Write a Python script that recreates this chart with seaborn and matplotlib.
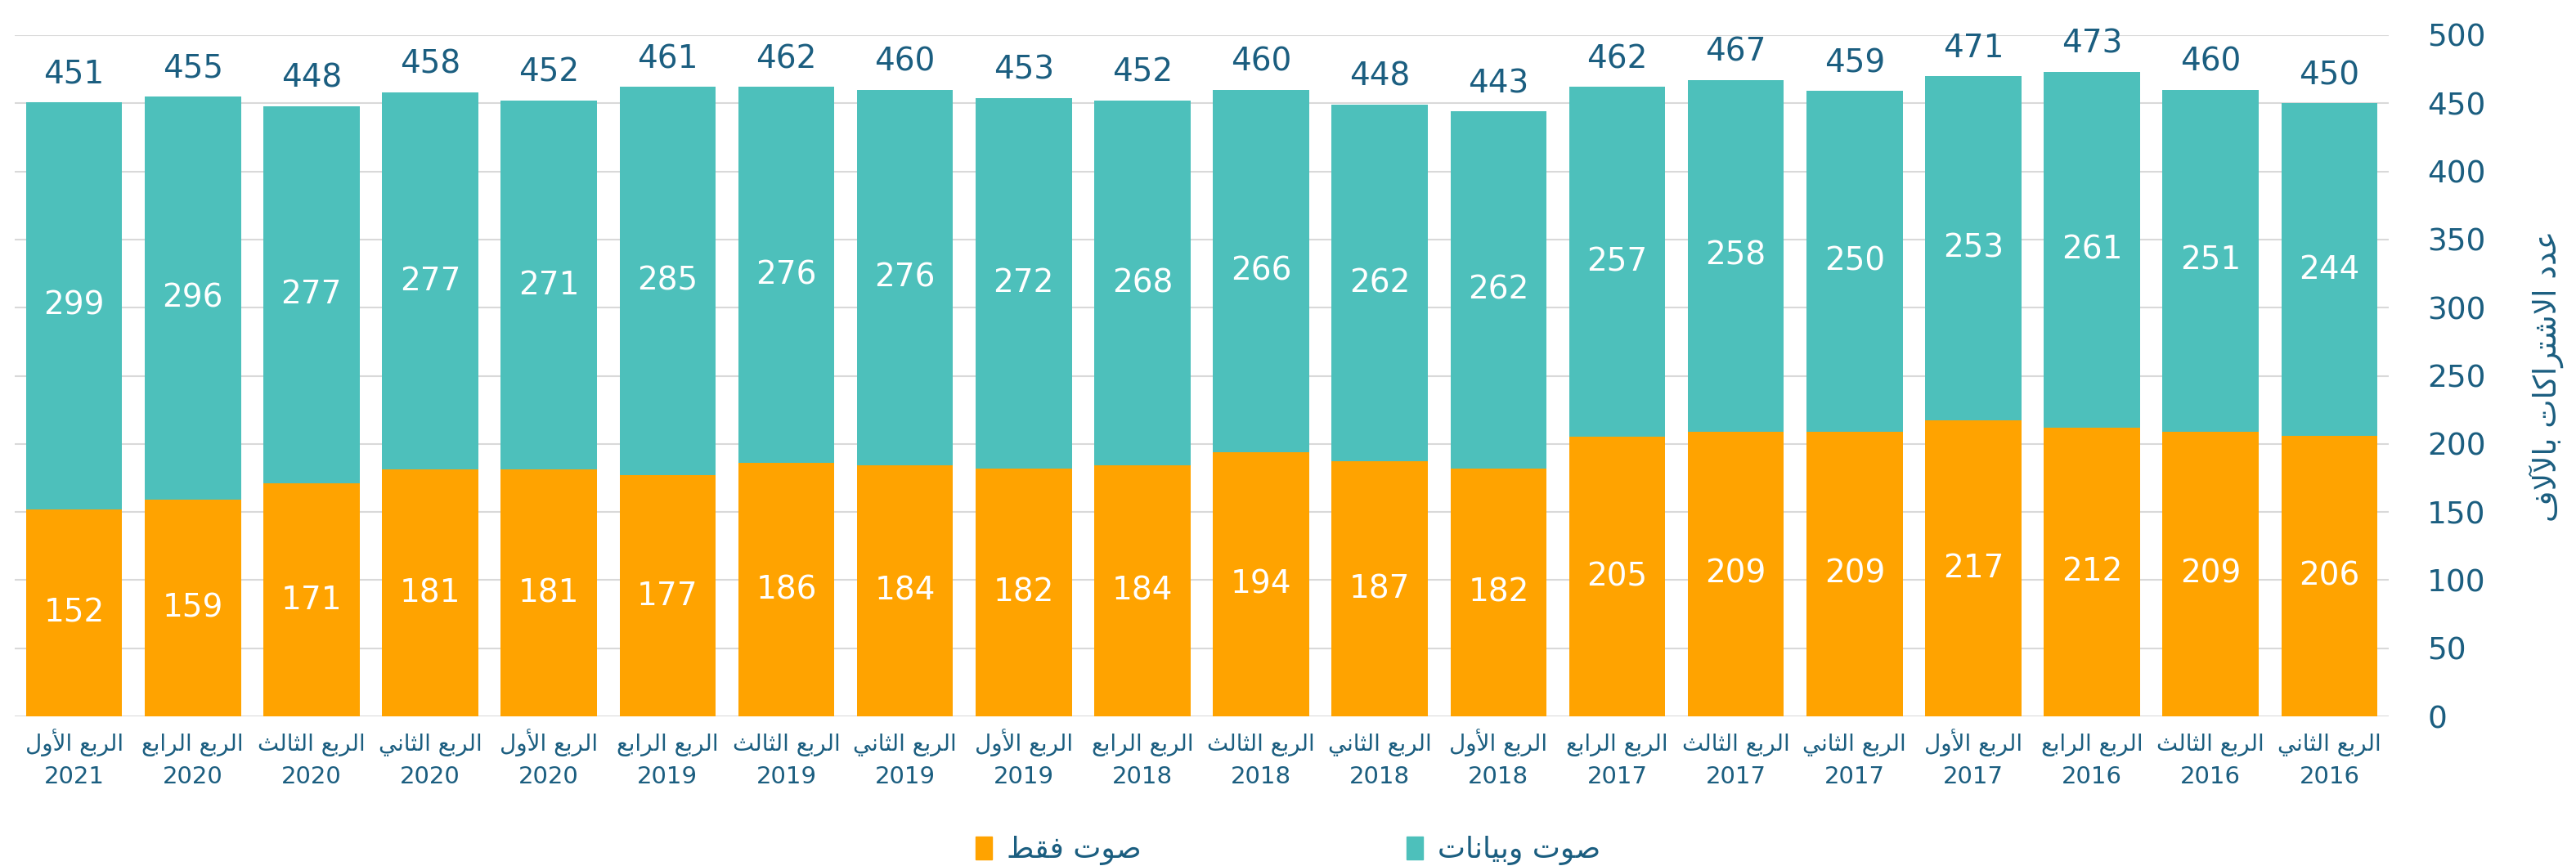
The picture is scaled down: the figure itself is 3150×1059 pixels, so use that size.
import matplotlib
matplotlib.use("Agg")
import matplotlib.pyplot as plt
import matplotlib.transforms as mtransforms
import seaborn as sns
import pandas as pd
from matplotlib.patches import Patch

# --- data (newest quarter on the left, like the source) ---
quarters = ["الربع الأول", "الربع الرابع", "الربع الثالث", "الربع الثاني", "الربع الأول",
            "الربع الرابع", "الربع الثالث", "الربع الثاني", "الربع الأول",
            "الربع الرابع", "الربع الثالث", "الربع الثاني", "الربع الأول",
            "الربع الرابع", "الربع الثالث", "الربع الثاني", "الربع الأول",
            "الربع الرابع", "الربع الثالث", "الربع الثاني"]
years = ["2021", "2020", "2020", "2020", "2020",
         "2019", "2019", "2019", "2019",
         "2018", "2018", "2018", "2018",
         "2017", "2017", "2017", "2017",
         "2016", "2016", "2016"]
voice_only = [152, 159, 171, 181, 181, 177, 186, 184, 182, 184,
              194, 187, 182, 205, 209, 209, 217, 212, 209, 206]
voice_data = [299, 296, 277, 277, 271, 285, 276, 276, 272, 268,
              266, 262, 262, 257, 258, 250, 253, 261, 251, 244]
totals = [451, 455, 448, 458, 452, 461, 462, 460, 453, 452,
          460, 448, 443, 462, 467, 459, 471, 473, 460, 450]

label_voice = "صوت فقط"
label_data = "صوت وبيانات"
y_title = "عدد الاشتراكات بالآلاف"

# --- minimal arabic shaping (matplotlib has no bidi / joining) ---
FORMS = {
    "ا": ("\uFE8D", "\uFE8E"), "أ": ("\uFE83", "\uFE84"), "آ": ("\uFE81", "\uFE82"),
    "د": ("\uFEA9", "\uFEAA"), "ر": ("\uFEAD", "\uFEAE"), "و": ("\uFEED", "\uFEEE"),
    "ب": ("\uFE8F", "\uFE90", "\uFE91", "\uFE92"), "ت": ("\uFE95", "\uFE96", "\uFE97", "\uFE98"),
    "ث": ("\uFE99", "\uFE9A", "\uFE9B", "\uFE9C"), "ش": ("\uFEB5", "\uFEB6", "\uFEB7", "\uFEB8"),
    "ص": ("\uFEB9", "\uFEBA", "\uFEBB", "\uFEBC"), "ط": ("\uFEC1", "\uFEC2", "\uFEC3", "\uFEC4"),
    "ع": ("\uFEC9", "\uFECA", "\uFECB", "\uFECC"), "ف": ("\uFED1", "\uFED2", "\uFED3", "\uFED4"),
    "ق": ("\uFED5", "\uFED6", "\uFED7", "\uFED8"), "ك": ("\uFED9", "\uFEDA", "\uFEDB", "\uFEDC"),
    "ل": ("\uFEDD", "\uFEDE", "\uFEDF", "\uFEE0"), "ن": ("\uFEE5", "\uFEE6", "\uFEE7", "\uFEE8"),
    "ي": ("\uFEF1", "\uFEF2", "\uFEF3", "\uFEF4"),
    "لآ": ("\uFEF5", "\uFEF6"), "لأ": ("\uFEF7", "\uFEF8"), "لا": ("\uFEFB", "\uFEFC"),
}


def ar(text):
    chars = []
    i = 0
    while i < len(text):
        if text[i] == "ل" and i + 1 < len(text) and text[i + 1] in "اأآ":
            chars.append(text[i:i + 2])
            i += 2
        else:
            chars.append(text[i])
            i += 1
    out = []
    for i, c in enumerate(chars):
        f = FORMS.get(c)
        if f is None:
            out.append(c)
            continue
        prev = chars[i - 1] if i > 0 else None
        nxt = chars[i + 1] if i + 1 < len(chars) else None
        jp = prev in FORMS and len(FORMS[prev]) == 4
        jn = nxt in FORMS and len(f) == 4
        if jp and jn:
            out.append(f[3])
        elif jp:
            out.append(f[1])
        elif jn:
            out.append(f[2])
        else:
            out.append(f[0])
    return "".join(reversed(out))


teal = "#4dc0bb"
orange = "#ffa300"
navy = "#1b5e80"

sns.set_style("white")
plt.rcParams["font.family"] = ["DejaVu Sans"]

df = pd.DataFrame({
    "label": [q + " " + y for q, y in zip(quarters, years)],
    "voice": voice_only,
    "stack": [v + d for v, d in zip(voice_only, voice_data)],
})

fig, ax = plt.subplots(figsize=(31.5, 10.59), dpi=100)
fig.subplots_adjust(left=18 / 3150, right=2921 / 3150, bottom=0.1728, top=0.9594)

sns.barplot(data=df, x="label", y="stack", color=teal, saturation=1, width=0.81,
            linewidth=0, ax=ax)
sns.barplot(data=df, x="label", y="voice", color=orange, saturation=1, width=0.81,
            linewidth=0, ax=ax)

# labels
ax.bar_label(ax.containers[0], labels=[str(t) for t in totals], padding=11,
             fontsize=28, color=navy)
ax.bar_label(ax.containers[1], labels=[str(v) for v in voice_only], label_type="center",
             fontsize=28, color="white")
for i, (v, d) in enumerate(zip(voice_only, voice_data)):
    ax.text(i, v + d / 2, str(d), ha="center", va="center", fontsize=28, color="white")

ax.set_ylim(0, 500)
ax.set_xlim(-0.5, len(quarters) - 0.5)
ax.set_yticks(range(0, 501, 50))
ax.yaxis.tick_right()
ax.yaxis.set_label_position("right")
ax.tick_params(axis="y", length=0, pad=34, labelsize=27, labelcolor=navy)

# two-line category labels, baselines fixed so the arabic line doesn't jump
ax.set_xticks(range(len(quarters)))
ax.set_xticklabels([])
ax.tick_params(axis="x", length=0)
trans = mtransforms.blended_transform_factory(ax.transData, ax.transAxes)
axes_h = (0.9594 - 0.1728) * 1059
for i, (q, y) in enumerate(zip(quarters, years)):
    ax.text(i, -42 / axes_h, ar(q), transform=trans, ha="center", va="baseline",
            fontsize=20, color=navy)
    ax.text(i, -82 / axes_h, y, transform=trans, ha="center", va="baseline",
            fontsize=21, color=navy)

ax.set_xlabel("")
ax.set_ylabel(ar(y_title), rotation=90, fontsize=27, color=navy, labelpad=38)
ax.yaxis.grid(True, color="#d9d9d9", linewidth=1.5)
ax.set_axisbelow(True)
sns.despine(ax=ax, left=True, right=True, top=True, bottom=True)

handles = [Patch(color=orange, label=ar(label_voice)), Patch(color=teal, label=ar(label_data))]
fig.legend(handles=handles, loc="lower center", bbox_to_anchor=(0.5, -0.03), ncol=2,
           frameon=False, fontsize=26, labelcolor=navy, handlelength=0.55, handleheight=0.8,
           handletextpad=0.5, columnspacing=9)

plt.savefig("out.png", dpi=100)
